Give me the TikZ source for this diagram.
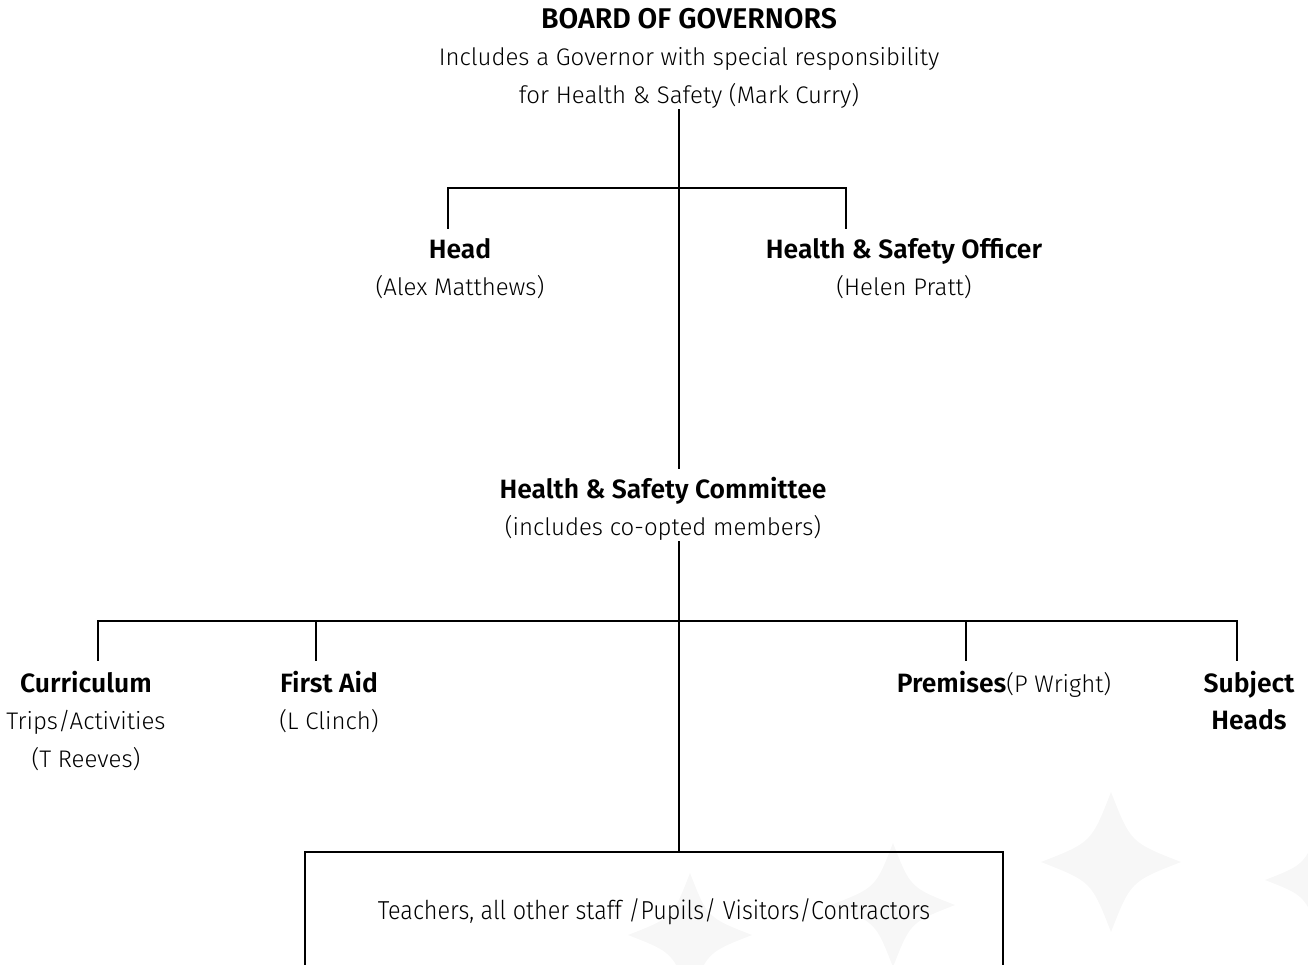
\documentclass[tikz,border=0pt]{standalone}
\usepackage{fontspec}
\setmainfont{Fira Sans}[UprightFont=* Light, BoldFont=* SemiBold]
\newcommand{\hb}[1]{{\fontsize{26.5}{37.5}\selectfont\bfseries #1}}
\begin{document}
\begin{tikzpicture}[x=1pt,y=-1pt,
  conn/.style={line width=2pt,line cap=rect},
  lbl/.style={inner sep=0pt,align=center,font=\fontsize{24}{37.5}\selectfont},
  wm/.style={fill=black!3,draw=none}]
\useasboundingbox (0,0) rectangle (1308,964);
% faint watermark stars
\foreach \cx/\cy/\r in {1111/862/70, 893/905/62, 690/935/62, 1320/880/55} {
  \fill[wm] (\cx,\cy-\r) .. controls (\cx+0.28*\r,\cy-0.28*\r) .. (\cx+\r,\cy)
    .. controls (\cx+0.28*\r,\cy+0.28*\r) .. (\cx,\cy+\r)
    .. controls (\cx-0.28*\r,\cy+0.28*\r) .. (\cx-\r,\cy)
    .. controls (\cx-0.28*\r,\cy-0.28*\r) .. cycle;
}
% nodes
\node[lbl,anchor=north] (board) at (689,8) {{\fontsize{28.5}{37.5}\selectfont\bfseries BOARD OF GOVERNORS}\\Includes a Governor with special responsibility\\for Health \& Safety (Mark Curry)};
\coordinate (boardb) at (679,110);
\node[lbl,anchor=north] (head) at (460,238) {\hb{Head}\\(Alex Matthews)};
\node[lbl,anchor=north] (hso) at (904,238) {\hb{Health \& Safety Officer}\\(Helen Pratt)};
\node[lbl,anchor=north] (comm) at (663,477) {\hb{Health \& Safety Committee}\\(includes co-opted members)};
\coordinate (commtop) at (679,468);
\coordinate (commb) at (679,542);
\node[lbl,anchor=north] (curr) at (86,671) {\hb{Curriculum}\\Trips/Activities\\(T Reeves)};
\node[lbl,anchor=north] (fa) at (329,671) {\hb{First Aid}\\(L Clinch)};
\node[lbl,anchor=north] (prem) at (1004,671) {\hb{Premises}(P Wright)};
\node[lbl,anchor=north] (subj) at (1249,671) {\hb{Subject}\\\hb{Heads}};
\draw[line width=2.5pt] (305,990) -- (305,852) -- (1003,852) -- (1003,990);
\node[inner sep=0pt,font=\fontsize{26}{30}\selectfont] (staff) at (654,912) {\scalebox{0.9}[1]{Teachers, all other staff /Pupils/ Visitors/Contractors}};
\coordinate (stafftop) at (679,852);
% connectors
\draw[conn] (boardb) -- (commtop);
\draw[conn] (448,228) -- (448,188) -- (846,188) -- (846,228);
\draw[conn] (commb) -- (stafftop);
\draw[conn] (98,660) -- (98,621) -- (1237,621) -- (1237,660);
\draw[conn] (316,621) -- (316,660);
\draw[conn] (966,621) -- (966,660);
\end{tikzpicture}
\end{document}
